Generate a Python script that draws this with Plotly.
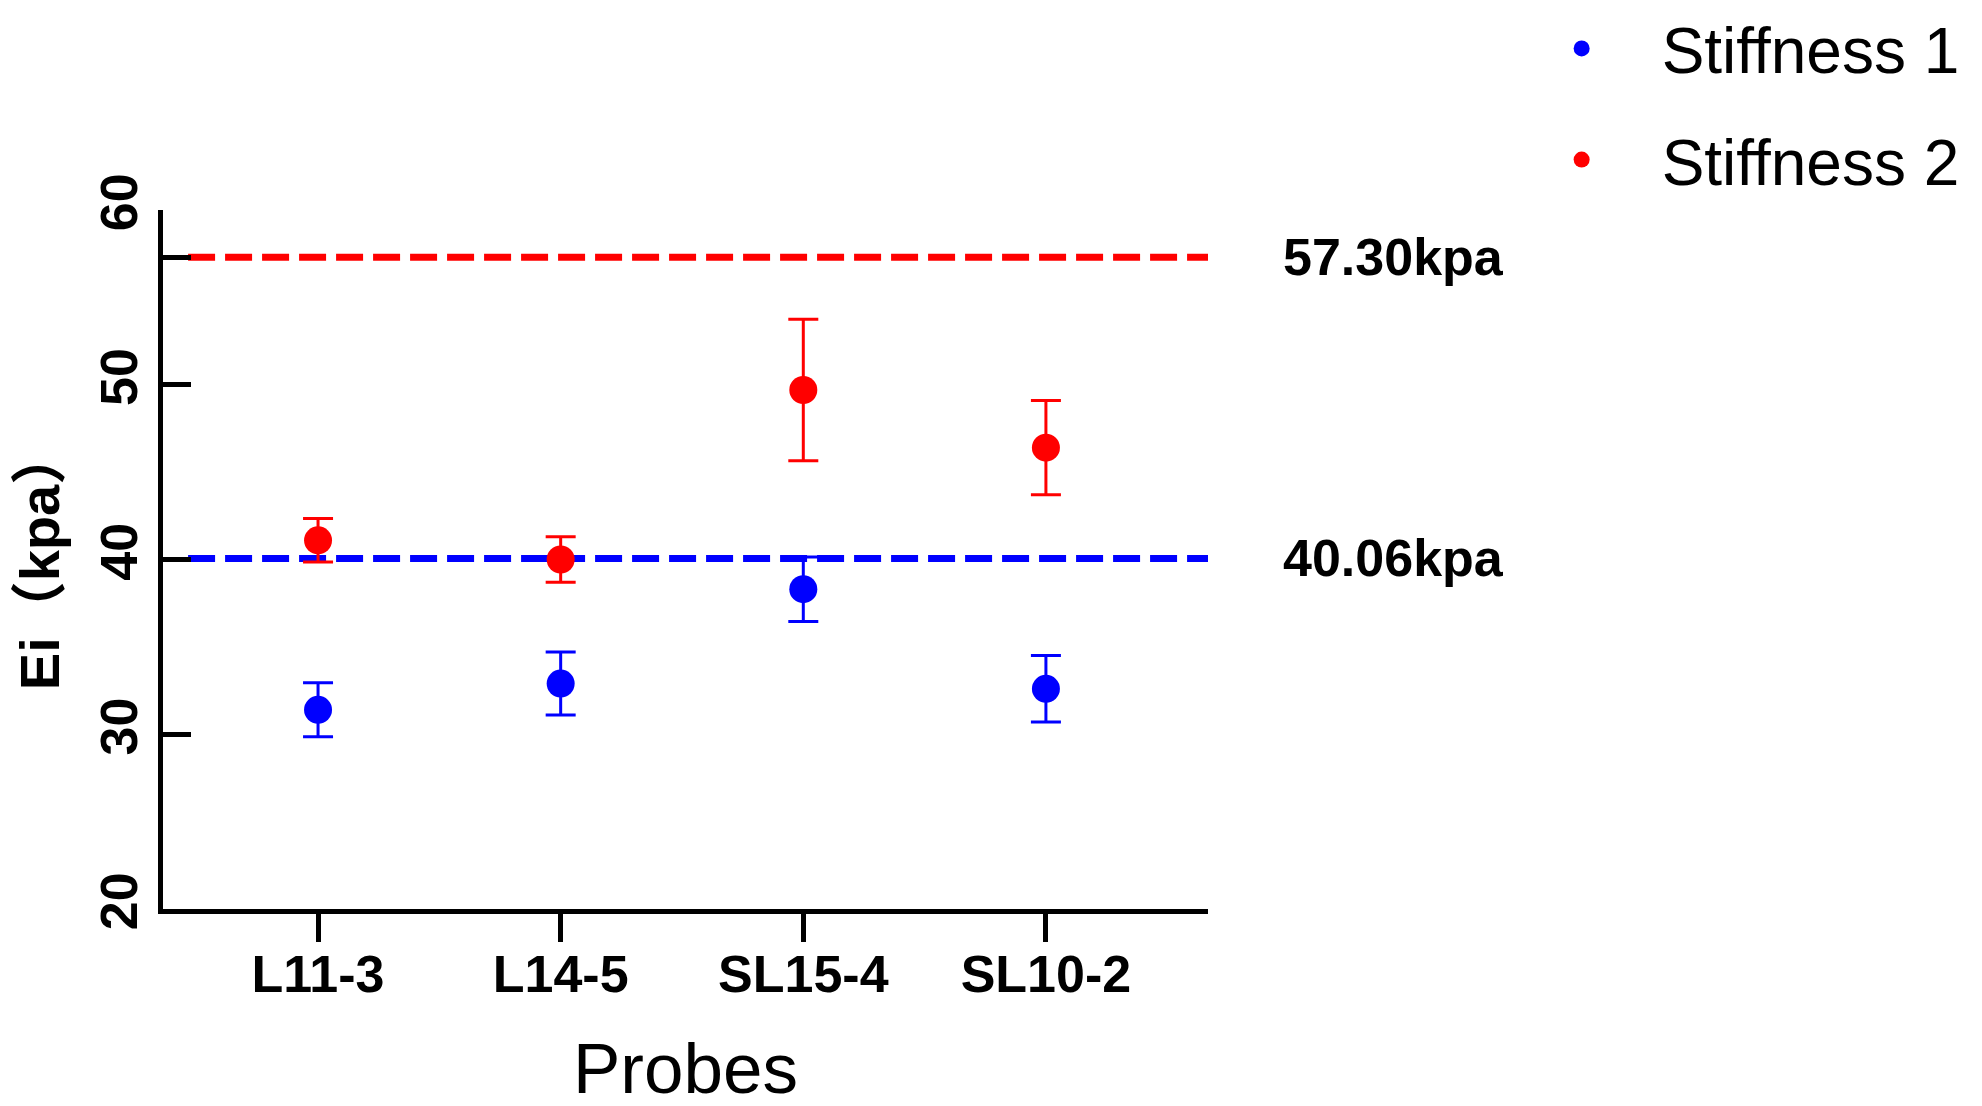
import plotly.graph_objects as go

# probes on the x axis
probes = ["L11-3", "L14-5", "SL15-4", "SL10-2"]

# mean Ei (kpa) and error for each stiffness group
stiff1_mean = [31.4, 32.9, 38.3, 32.6]
stiff1_err = [1.55, 1.8, 1.85, 1.9]
stiff2_mean = [41.1, 40.0, 49.7, 46.4]
stiff2_err = [1.25, 1.3, 4.05, 2.7]

# reference levels (dashed lines)
ref_blue = 40.06
ref_red = 57.30

y_ticks = [20, 30, 40, 50, 57.3, 60]
y_ticktext = ["20", "30", "40", "50", "", "60"]

BLUE = "#0000ff"
RED = "#ff0000"
FONT = "Liberation Sans, Arial, Noto Sans CJK SC"

fig = go.Figure()

fig.add_trace(go.Scatter(
    x=probes, y=stiff1_mean, mode="markers", name="Stiffness 1",
    legendgroup="s1",
    marker=dict(color=BLUE, size=28),
    error_y=dict(type="data", array=stiff1_err, visible=True,
                 color=BLUE, thickness=3, width=15),
))
fig.add_trace(go.Scatter(
    x=probes, y=stiff2_mean, mode="markers", name="Stiffness 2",
    legendgroup="s2",
    marker=dict(color=RED, size=28),
    error_y=dict(type="data", array=stiff2_err, visible=True,
                 color=RED, thickness=3, width=15),
))

# dashed reference lines + labels
for val, col in [(ref_red, RED), (ref_blue, BLUE)]:
    fig.add_shape(type="line", xref="x domain", x0=0.024, x1=1.0, yref="y", y0=val, y1=val,
                  line=dict(color=col, width=7, dash="27px,10px"), layer="below")
    fig.add_annotation(xref="x domain", x=1.07, yref="y", y=val,
                       text=f"{val:.2f}kpa", showarrow=False,
                       xanchor="left", yanchor="middle",
                       font=dict(family=FONT, size=52, color="black", weight="bold"))

# x axis title
fig.add_annotation(xref="x domain", x=0.5, yref="paper", y=-0.228,
                   text="Probes", showarrow=False, xanchor="center", yanchor="middle",
                   font=dict(family=FONT, size=71, color="black"))

fig.update_layout(
    width=1982, height=1106,
    margin=dict(l=155, r=782, t=202, b=205, autoexpand=False),
    paper_bgcolor="white", plot_bgcolor="white",
    font=dict(family=FONT, color="black"),
    showlegend=True,
    legend=dict(x=1.281, y=1.3, xanchor="left", yanchor="top",
                font=dict(family=FONT, size=64, color="black"),
                traceorder="grouped", tracegroupgap=25,
                itemwidth=150, bgcolor="rgba(0,0,0,0)"),
)

fig.update_xaxes(
    type="category", categoryorder="array", categoryarray=probes,
    range=[-0.639, 3.668],
    showline=True, linewidth=5, linecolor="black",
    ticks="outside", ticklen=28, tickwidth=5, tickcolor="black",
    tickfont=dict(family=FONT, size=52, color="black", weight="bold"),
    ticklabelstandoff=-12,
    showgrid=False, zeroline=False, automargin=False,
)

fig.update_yaxes(
    range=[20, 60],
    tickmode="array", tickvals=y_ticks, ticktext=y_ticktext, tickangle=-90,
    showline=True, linewidth=5, linecolor="black",
    ticks="inside", ticklen=28, tickwidth=5, tickcolor="black",
    tickfont=dict(family=FONT, size=52, color="black", weight="bold"),
    showgrid=False, zeroline=False, automargin=False,
    title=dict(text="Ei（kpa）", font=dict(family=FONT, size=56, color="black", weight="bold"), standoff=20),
)

fig.write_html("out.html")
